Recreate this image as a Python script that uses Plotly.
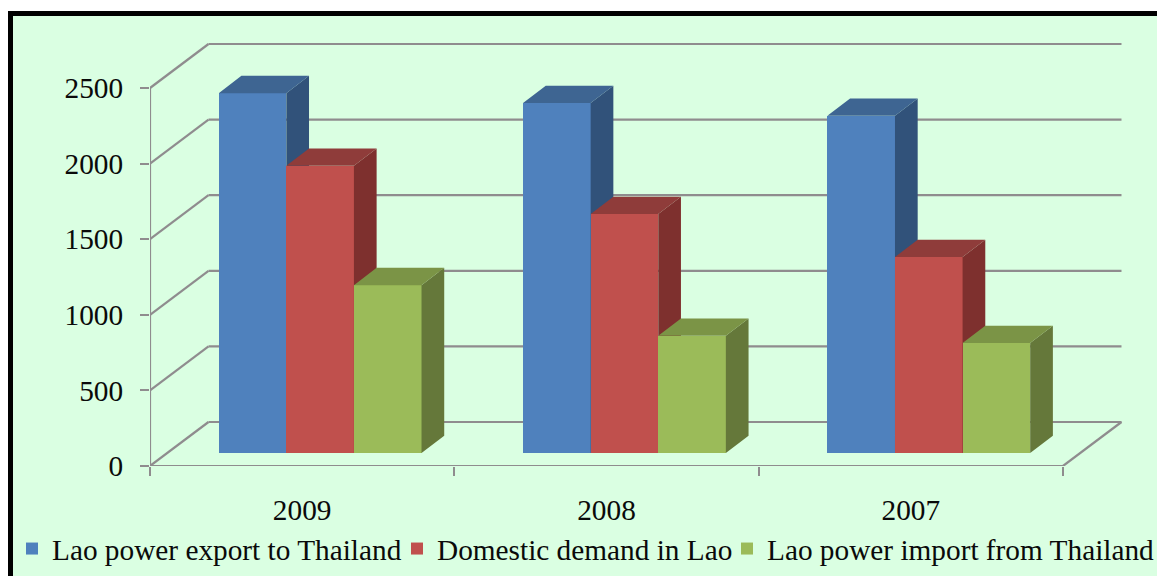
import plotly.graph_objects as go

# ---- data ----
years = ["2009", "2008", "2007"]
series_names = ["Lao power export to Thailand", "Domestic demand in Lao", "Lao power import from Thailand"]
export_values = [2380, 2315, 2230]
demand_values = [1900, 1580, 1296]
import_values = [1110, 775, 727]
y_ticks = [0, 500, 1000, 1500, 2000, 2500]

front_colors = ["#4F81BD", "#C0504D", "#9BBB59"]
top_colors = ["#3E6592", "#8F3C3A", "#7B9446"]
side_colors = ["#31527A", "#7E302E", "#65783A"]
grid_color = "#8F8C8E"
bg_color = "#DAFFE2"
font_name = "Liberation Serif"
font_size = 29.3
text_color = "#0A0A0A"

# ---- pseudo-3D projection, in axis units ----
W, H = 1157, 576
LEFT, TOP, BOTTOM = 150, 16, 110
PX_PER_CAT = 304.33
PX_PER_VAL = 0.1512
plot_w, plot_h = W - LEFT, H - TOP - BOTTOM
x_max = plot_w / PX_PER_CAT
y_max = plot_h / PX_PER_VAL
n = len(years)

wall_dx, wall_dy = 58.5 / PX_PER_CAT, 44 / PX_PER_VAL
bar_dx, bar_dy = 22.7 / PX_PER_CAT, 17.3 / PX_PER_VAL
bar_base = 13 / PX_PER_VAL
bar_w = 67.6 / PX_PER_CAT
group_shift = 0.559
legend_px = [12, 397, 727]

fig = go.Figure()
all_values = [export_values, demand_values, import_values]

for s, values in enumerate(all_values):
    xref = "x" if s == 0 else f"x{s + 1}"
    yref = "y" if s == 0 else f"y{s + 1}"
    centers = [i + group_shift + (s - 1) * bar_w for i in range(n)]
    fig.add_trace(go.Bar(
        x=centers, y=values, base=[bar_base] * n, width=bar_w, name=series_names[s],
        marker=dict(color=front_colors[s], line=dict(width=0)),
        xaxis=xref, yaxis=yref, hoverinfo="name+y",
        legend="legend" if s == 0 else f"legend{s + 1}",
    ))
    side_x, side_y, top_x, top_y = [], [], [], []
    for c, v in zip(centers, values):
        r, l = c + bar_w / 2, c - bar_w / 2
        t = bar_base + v
        side_x += [r, r + bar_dx, r + bar_dx, r, r, None]
        side_y += [bar_base, bar_base + bar_dy, t + bar_dy, t, bar_base, None]
        top_x += [l, l + bar_dx, r + bar_dx, r, l, None]
        top_y += [t, t + bar_dy, t + bar_dy, t, t, None]
    for px, py, col in ((side_x, side_y, side_colors[s]), (top_x, top_y, top_colors[s])):
        fig.add_trace(go.Scatter(
            x=px, y=py, mode="lines", fill="toself", fillcolor=col,
            line=dict(width=0, color=col), showlegend=False, hoverinfo="skip",
            xaxis=xref, yaxis=yref,
        ))

# ---- walls and floor ----
grid = dict(type="line", xref="x", yref="y", layer="below", line=dict(color=grid_color, width=2.2))
shapes = [
    dict(type="rect", xref="paper", yref="paper", layer="below",
         x0=(8 - LEFT) / plot_w, x1=1, y0=-BOTTOM / plot_h, y1=1 + (TOP - 11) / plot_h,
         fillcolor="#000000", line=dict(width=0)),
    dict(type="rect", xref="paper", yref="paper", layer="below",
         x0=(13 - LEFT) / plot_w, x1=1, y0=-BOTTOM / plot_h, y1=1,
         fillcolor=bg_color, line=dict(width=0)),
]
for v in y_ticks:
    shapes.append(dict(grid, x0=0, y0=v, x1=wall_dx, y1=v + wall_dy))
    shapes.append(dict(grid, x0=wall_dx, y0=v + wall_dy, x1=n + wall_dx, y1=v + wall_dy))
shapes.append(dict(grid, x0=0, y0=0, x1=0, y1=y_ticks[-1]))
shapes.append(dict(grid, x0=0, y0=0, x1=n, y1=0))
shapes.append(dict(grid, x0=n, y0=0, x1=n + wall_dx, y1=wall_dy))

fig.update_layout(
    width=W, height=H, autosize=False,
    margin=dict(l=LEFT, r=0, t=TOP, b=BOTTOM, pad=0, autoexpand=False),
    paper_bgcolor="#FFFFFF", plot_bgcolor="rgba(0,0,0,0)",
    font=dict(family=font_name, size=font_size, color=text_color),
    barmode="overlay", bargap=0, shapes=shapes,
    xaxis=dict(range=[0, x_max], tickmode="array", tickvals=[i + 0.5 for i in range(n)],
               ticktext=years, ticks="", showgrid=False, zeroline=False, showline=False,
               ticklabelstandoff=24,
               minor=dict(tickmode="array", tickvals=list(range(n + 1)), ticks="outside",
                          ticklen=9, tickcolor=grid_color, tickwidth=2.2, showgrid=False)),
    yaxis=dict(range=[0, y_max], tickmode="array", tickvals=y_ticks, ticks="outside",
               ticklen=9, tickcolor=grid_color, tickwidth=2.2, showgrid=False,
               zeroline=False, showline=False, ticklabelstandoff=11),
)
for s, lx in enumerate(legend_px):
    key = "legend" if s == 0 else f"legend{s + 1}"
    fig.update_layout({key: dict(
        orientation="v", xref="paper", yref="paper",
        x=(lx - LEFT) / plot_w, y=-(549 - (H - BOTTOM)) / plot_h, xanchor="left", yanchor="middle",
        bgcolor="rgba(0,0,0,0)", borderwidth=0,
        font=dict(family=font_name, size=font_size, color=text_color),
    )})
for k in (2, 3):
    fig.update_layout({
        f"xaxis{k}": dict(range=[0, x_max], overlaying="x", visible=False, anchor=f"y{k}"),
        f"yaxis{k}": dict(range=[0, y_max], overlaying="y", visible=False, anchor=f"x{k}"),
    })

fig.write_html("out.html", config={"displayModeBar": False},
               post_script="document.body.style.margin='0';document.body.style.overflow='hidden';")
